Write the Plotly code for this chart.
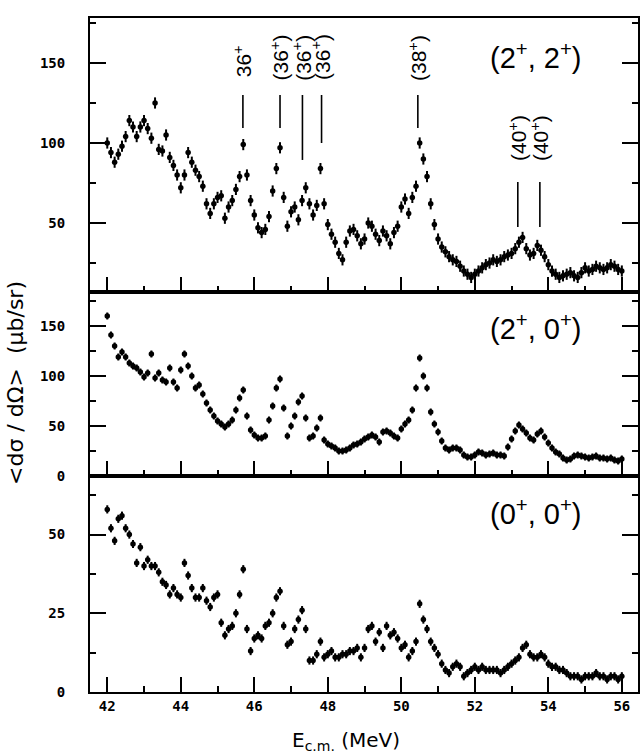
import plotly.graph_objects as go
from plotly.subplots import make_subplots

# Centre-of-mass energy grid (MeV), 100 keV steps
energy = [round(42.0 + 0.1 * i, 1) for i in range(141)]

# Excitation functions, angle-averaged cross sections (microbarn/sr)
sigma_22 = [
    100, 94, 88, 93, 98, 104, 114, 110, 104, 110,
    114, 109, 103, 125, 96, 95, 105, 91, 86, 80,
    72, 80, 94, 88, 83, 79, 73, 62, 56, 62,
    66, 67, 53, 60, 64, 71, 79, 99, 80, 64,
    55, 47, 44, 46, 54, 70, 84, 97, 66, 48,
    57, 60, 52, 64, 72, 62, 55, 61, 84, 62,
    49, 43, 38, 31, 27, 38, 45, 46, 42, 37,
    40, 50, 48, 43, 39, 45, 42, 37, 44, 48,
    60, 65, 56, 66, 73, 100, 90, 79, 62, 49,
    40, 35, 32, 29, 27, 26, 23, 20, 18, 16,
    18, 20, 22, 24, 25, 27, 26, 27, 29, 30,
    31, 34, 38, 41, 34, 30, 31, 36, 33, 29,
    24, 20, 18, 16, 17, 18, 19, 17, 16, 19,
    22, 20, 21, 23, 22, 21, 22, 24, 23, 21,
    20,
]

sigma_20 = [
    160, 141, 130, 119, 124, 119, 113, 110, 108, 104,
    99, 103, 122, 98, 103, 96, 94, 108, 94, 88,
    106, 122, 110, 100, 88, 91, 82, 73, 66, 60,
    55, 52, 49, 52, 56, 66, 78, 86, 60, 46,
    41, 38, 38, 40, 56, 70, 88, 97, 68, 40,
    50, 60, 74, 80, 58, 38, 40, 48, 58, 36,
    32, 30, 28, 25, 25, 26, 28, 31, 32, 34,
    37, 39, 41, 39, 34, 44, 45, 43, 40, 38,
    47, 52, 56, 66, 88, 118, 100, 88, 64, 52,
    44, 35, 28, 26, 28, 28, 26, 21, 19, 19,
    21, 24, 23, 21, 22, 23, 21, 21, 20, 29,
    37, 45, 51, 47, 43, 38, 36, 42, 45, 39,
    33, 28, 24, 22, 18, 16, 17, 20, 21, 20,
    19, 18, 19, 20, 18, 18, 17, 18, 16, 15,
    17,
]

sigma_00 = [
    58, 52, 48, 55, 56, 52, 50, 47, 41, 46,
    40, 42, 40, 40, 38, 35, 34, 31, 33, 31,
    30, 41, 37, 33, 30, 30, 33, 29, 27, 30,
    31, 22, 18, 20, 21, 25, 31, 39, 20, 13,
    17, 18, 17, 21, 22, 25, 30, 32, 21, 15,
    16, 20, 23, 26, 20, 10, 10, 12, 16, 11,
    12, 13, 11, 11, 12, 12, 13, 13, 14, 11,
    14, 20, 21, 16, 19, 14, 21, 18, 19, 17,
    14, 15, 11, 13, 16, 28, 23, 20, 16, 14,
    12, 9, 7, 6, 8, 9, 8, 5, 6, 7,
    8, 7, 8, 7, 7, 7, 7, 6, 7, 8,
    9, 10, 11, 14, 15, 12, 11, 11, 12, 11,
    9, 8, 8, 7, 7, 6, 5, 5, 5, 4,
    5, 5, 5, 6, 5, 5, 4, 5, 5, 4,
    5,
]

channel_labels = ["(2<sup>+</sup>, 2<sup>+</sup>)",
                  "(2<sup>+</sup>, 0<sup>+</sup>)",
                  "(0<sup>+</sup>, 0<sup>+</sup>)"]

# Resonance assignments marked in the (2+,2+) channel
level_names = ["36<sup>+</sup>", "(36<sup>+</sup>)", "(36<sup>+</sup>)", "(36<sup>+</sup>)",
               "(38<sup>+</sup>)", "(40<sup>+</sup>)", "(40<sup>+</sup>)"]
level_energy = [45.69, 46.70, 47.31, 47.83, 50.45, 53.17, 53.77]
level_line_top = [130, 130, 130, 130, 130, 75.6, 75.6]
level_line_bottom = [109.4, 109.4, 89.4, 100, 109.4, 47.5, 47.5]
level_text_y = [151, 153.5, 153.5, 153.5, 153, 103, 103]

x_ticks = [42, 44, 46, 48, 50, 52, 54, 56]
y_ranges = [[6.9, 178.1], [0, 184], [0, 68.6]]
y_major = [[50, 100, 150], [0, 50, 100, 150], [0, 25, 50]]
y_minor = [25, 25, 12.5]
err = [3.5, 3.5, 1.3]

W, H = 643, 756
L, R, T, B = 90, 3, 18, 64

fig = make_subplots(rows=3, cols=1, shared_xaxes=True, vertical_spacing=0,
                    row_heights=[274, 184, 216])

series = [sigma_22, sigma_20, sigma_00]
for i, vals in enumerate(series):
    fig.add_trace(go.Scatter(
        x=energy, y=vals, mode="markers",
        marker=dict(color="black", size=5.5, symbol="circle"),
        error_y=dict(type="constant", value=err[i], color="black",
                     thickness=2, width=0),
        showlegend=False, hoverinfo="skip", cliponaxis=True,
    ), row=i + 1, col=1)

tick_font = dict(family="DejaVu Sans Mono", size=14, color="black", weight="bold")

for i in range(3):
    fig.update_xaxes(
        row=i + 1, col=1, range=[41.53, 56.44],
        tickmode="array", tickvals=x_ticks,
        ticks="inside", ticklen=15, tickwidth=2, tickcolor="black",
        minor=dict(tickmode="linear", tick0=43, dtick=2, ticks="inside",
                   ticklen=6, tickwidth=2, tickcolor="black"),
        showline=True, linecolor="black", linewidth=2, mirror=True,
        showgrid=False, zeroline=False,
        showticklabels=(i == 2), tickfont=tick_font,
    )
    fig.update_yaxes(
        row=i + 1, col=1, range=y_ranges[i],
        tickmode="array", tickvals=y_major[i],
        ticks="inside", ticklen=16, tickwidth=2, tickcolor="black",
        minor=dict(tickmode="linear", tick0=y_minor[i], dtick=2 * y_minor[i],
                   ticks="inside", ticklen=6, tickwidth=2, tickcolor="black"),
        showline=True, linecolor="black", linewidth=2, mirror="ticks",
        showgrid=False, zeroline=False,
        tickfont=tick_font, ticklabelstandoff=20,
    )

# Level markers in the (2+,2+) panel
for e, top, bot, name, ty in zip(level_energy, level_line_top, level_line_bottom,
                                 level_names, level_text_y):
    fig.add_shape(type="line", xref="x", yref="y", x0=e, x1=e, y0=bot, y1=top,
                  line=dict(color="black", width=1.6))
    fig.add_annotation(xref="x", yref="y", x=e, y=ty, text=name, textangle=-90,
                       showarrow=False, xanchor="center", yanchor="middle",
                       font=dict(family="Liberation Sans", size=21, color="black"))

# Channel labels
label_y = [0.944, 0.5415, 0.267]
for lab, py in zip(channel_labels, label_y):
    fig.add_annotation(xref="paper", yref="paper", x=0.8127, y=py, text=lab,
                       showarrow=False, xanchor="center", yanchor="middle",
                       font=dict(family="Liberation Sans", size=29, color="black"))

# Axis titles
fig.add_annotation(xref="paper", yref="paper", x=-0.135, y=0.4585,
                   text="&lt;dσ / dΩ&gt;  (μb/sr)", textangle=-90, showarrow=False,
                   xanchor="center", yanchor="middle",
                   font=dict(family="DejaVu Sans", size=22, color="black"))
fig.add_annotation(xref="paper", yref="paper", x=0.467, y=-0.073,
                   text="E<sub>c.m.</sub> (MeV)", showarrow=False,
                   xanchor="center", yanchor="middle",
                   font=dict(family="DejaVu Sans", size=20, color="black"))

fig.update_layout(
    width=W, height=H,
    margin=dict(l=L, r=R, t=T, b=B),
    paper_bgcolor="white", plot_bgcolor="white",
    showlegend=False,
)

fig.write_html("out.html")
